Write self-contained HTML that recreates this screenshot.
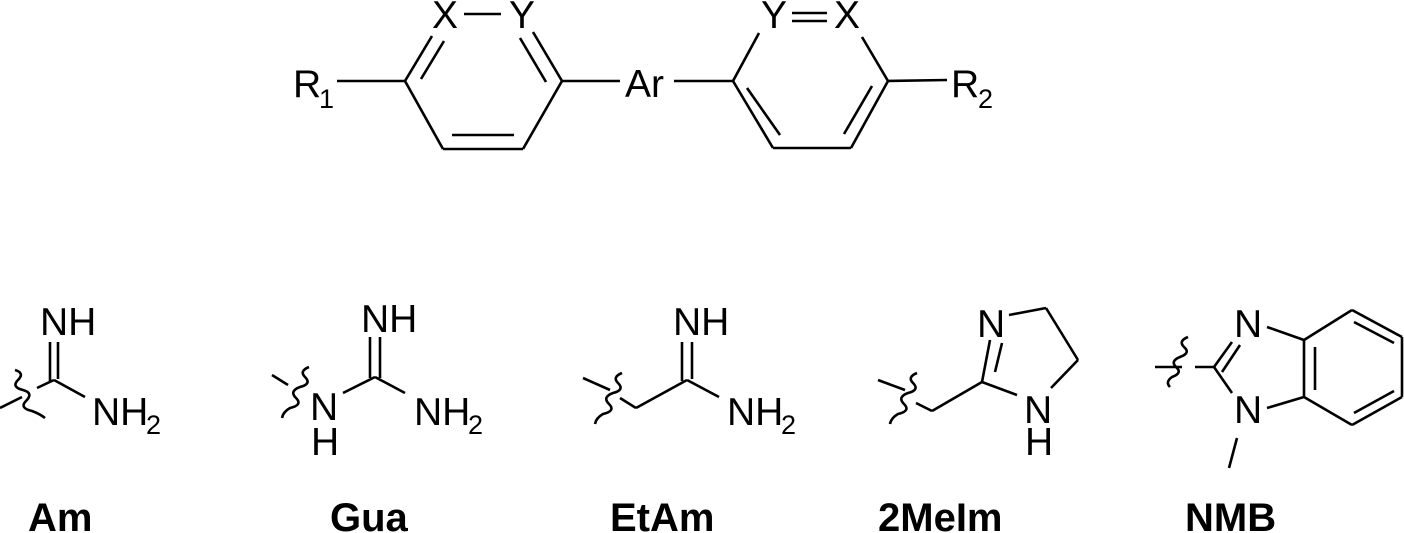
<!DOCTYPE html>
<html><head><meta charset="utf-8"><style>
html,body{margin:0;padding:0;background:#fff;}
svg{display:block;}
text{font-family:"Liberation Sans",Arial,sans-serif;fill:#000;}
.b{font-weight:bold;font-size:40px;}
.l{font-size:39px;}
.s{font-size:27px;}
</style></head><body>
<svg width="1404" height="533" viewBox="0 0 1404 533" xmlns="http://www.w3.org/2000/svg">
<g stroke="#000" stroke-width="2.6" fill="none" stroke-linecap="butt">
<!-- top left ring -->
<line x1="337" y1="81" x2="405" y2="81"/>
<line x1="405" y1="81" x2="432" y2="36"/>
<line x1="421" y1="79" x2="444" y2="41"/>
<line x1="464" y1="14" x2="501" y2="14"/>
<line x1="533" y1="32" x2="562" y2="81"/>
<line x1="520" y1="38" x2="546" y2="82"/>
<line x1="562" y1="81" x2="523" y2="149"/>
<line x1="523" y1="149" x2="443" y2="149"/>
<line x1="452" y1="135" x2="514" y2="135"/>
<line x1="443" y1="149" x2="405" y2="81"/>
<line x1="562" y1="81" x2="620" y2="81"/>
<line x1="674" y1="81" x2="733" y2="81"/>
<!-- top right ring -->
<line x1="733" y1="81" x2="759" y2="33"/>
<line x1="792" y1="13" x2="827" y2="13"/>
<line x1="792" y1="21" x2="827" y2="21"/>
<line x1="862" y1="37" x2="888" y2="81"/>
<line x1="888" y1="81" x2="851" y2="148"/>
<line x1="872" y1="86" x2="844" y2="134"/>
<line x1="851" y1="148" x2="773" y2="148"/>
<line x1="773" y1="148" x2="733" y2="81"/>
<line x1="747" y1="88" x2="780" y2="135"/>
<line x1="888" y1="81" x2="947" y2="80"/>
<!-- Am -->
<line x1="0" y1="408" x2="22" y2="397"/>
<path d="M15,370 q10,3 3,10 q-7,7 5,10 q11,3 3,11 q-7,7 6,10 q8,3 13,7"/>
<line x1="37" y1="388" x2="54" y2="380"/>
<line x1="50" y1="342" x2="50" y2="381"/>
<line x1="58" y1="342" x2="58" y2="379"/>
<line x1="54" y1="380" x2="85" y2="397"/>
<!-- Gua -->
<line x1="272" y1="375" x2="288" y2="385"/>
<path d="M309,367 q-10,4 -4,10 q7,7 -5,10 q-11,4 -4,11 q7,7 -6,10 q-7,4 -8,10"/>
<line x1="343" y1="393" x2="375" y2="377"/>
<line x1="370" y1="337" x2="370" y2="378"/>
<line x1="380" y1="337" x2="380" y2="378"/>
<line x1="375" y1="377" x2="405" y2="393"/>
<!-- EtAm -->
<line x1="583" y1="378" x2="610" y2="390"/>
<path d="M622,373 q-10,4 -4,10 q7,7 -5,10 q-11,4 -4,11 q7,7 -6,10 q-7,4 -8,10"/>
<line x1="620" y1="398" x2="636" y2="408"/>
<line x1="636" y1="408" x2="687" y2="380"/>
<line x1="682" y1="342" x2="682" y2="381"/>
<line x1="692" y1="342" x2="692" y2="379"/>
<line x1="687" y1="380" x2="719" y2="397"/>
<!-- 2MeIm -->
<line x1="878" y1="380" x2="905" y2="390"/>
<path d="M917,373 q-10,4 -4,10 q7,7 -5,10 q-11,4 -4,11 q7,7 -6,10 q-7,4 -8,10"/>
<line x1="916" y1="403" x2="932" y2="411"/>
<line x1="932" y1="411" x2="982" y2="382"/>
<line x1="982" y1="382" x2="990" y2="340"/>
<line x1="995" y1="372" x2="1002" y2="343"/>
<line x1="1009" y1="315" x2="1046" y2="308"/>
<line x1="1046" y1="308" x2="1078" y2="360"/>
<line x1="1078" y1="360" x2="1051" y2="388"/>
<line x1="982" y1="382" x2="1017" y2="395"/>
<!-- NMB -->
<line x1="1155" y1="367" x2="1182" y2="367"/>
<path d="M1188,337 q-10,4 -4,10 q7,6 -4,10 q-10,4 -4,10 q7,6 -4,10 q-7,5 -2,10"/>
<line x1="1195" y1="367" x2="1214" y2="367"/>
<line x1="1214" y1="367" x2="1232" y2="342"/>
<line x1="1222" y1="372" x2="1240" y2="345"/>
<line x1="1214" y1="367" x2="1232" y2="393"/>
<line x1="1267" y1="327" x2="1304" y2="340"/>
<line x1="1267" y1="408" x2="1304" y2="397"/>
<line x1="1304" y1="340" x2="1304" y2="397"/>
<line x1="1315" y1="347" x2="1315" y2="390"/>
<line x1="1304" y1="340" x2="1352" y2="310"/>
<line x1="1352" y1="310" x2="1402" y2="337"/>
<line x1="1354" y1="322" x2="1394" y2="343"/>
<line x1="1402" y1="337" x2="1402" y2="397"/>
<line x1="1402" y1="397" x2="1352" y2="425"/>
<line x1="1394" y1="391" x2="1354" y2="413"/>
<line x1="1352" y1="425" x2="1304" y2="397"/>
<line x1="1237" y1="438" x2="1229" y2="468"/>
</g>
<!-- top labels -->
<text class="l" x="293" y="97">R</text><text class="s" x="319" y="108">1</text>
<text class="l" x="432" y="28">X</text>
<text class="l" x="509" y="28">Y</text>
<text class="l" x="625" y="97">Ar</text>
<text class="l" x="761" y="28">Y</text>
<text class="l" x="834" y="28">X</text>
<text class="l" x="951" y="97">R</text><text class="s" x="978" y="108">2</text>
<!-- bottom labels -->
<text class="l" x="40" y="335">NH</text>
<text class="l" x="92" y="425">NH</text><text class="s" x="146" y="434">2</text>
<text class="l" x="361" y="332">NH</text>
<text class="l" x="310" y="420">N</text>
<text class="l" x="311" y="455">H</text>
<text class="l" x="414" y="425">NH</text><text class="s" x="468" y="434">2</text>
<text class="l" x="673" y="335">NH</text>
<text class="l" x="727" y="425">NH</text><text class="s" x="781" y="434">2</text>
<text class="l" x="977" y="337">N</text>
<text class="l" x="1024" y="423">N</text>
<text class="l" x="1025" y="455">H</text>
<text class="l" x="1234" y="337">N</text>
<text class="l" x="1234" y="423">N</text>
<text class="b" x="28" y="531">Am</text>
<text class="b" x="330" y="531">Gua</text>
<text class="b" x="610" y="531">EtAm</text>
<text class="b" x="878" y="531">2MeIm</text>
<text class="b" x="1185" y="531">NMB</text>
</svg>
</body></html>
